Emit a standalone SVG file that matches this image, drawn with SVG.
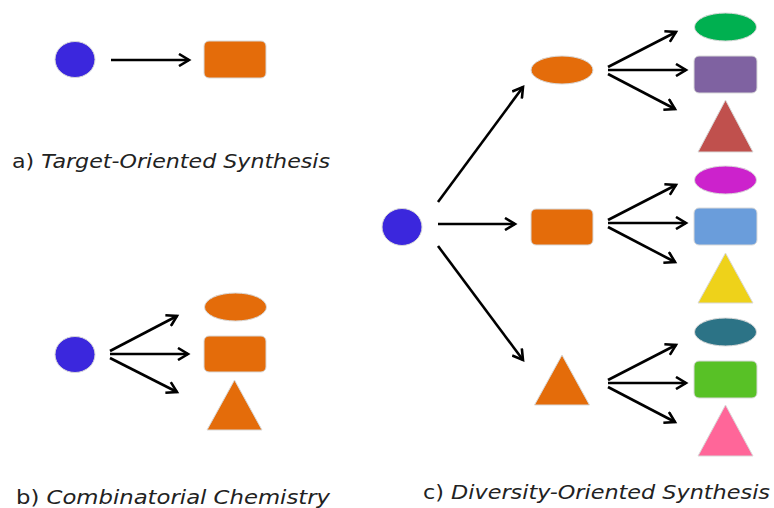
<svg xmlns="http://www.w3.org/2000/svg" width="774" height="508" viewBox="0 0 774 508">
<style>
.shape{stroke:#d9d9d9;stroke-width:1}
.edge{fill:none;stroke:#000;stroke-width:2.6;marker-end:url(#arr)}
.lbl{font-family:"DejaVu Sans","Liberation Sans",sans-serif;font-size:19.5px;fill:#222}
.it{font-style:italic}
.blue{fill:#3b27dd}
.orange{fill:#e46c0a}
</style>
<defs>
<marker id="arr" markerWidth="14" markerHeight="14" refX="11" refY="7" orient="auto" markerUnits="userSpaceOnUse">
<path d="M1,1 L11,7 L1,13" fill="none" stroke="#000" stroke-width="2.6" stroke-linejoin="miter"/>
</marker>
</defs>
<rect width="774" height="508" fill="#fff"/>

<!-- a) Target-Oriented Synthesis -->
<g id="a-start"><ellipse class="shape blue" cx="75" cy="59.5" rx="20" ry="18"/></g>
<g id="a-target"><rect class="shape orange" x="204" y="41" width="62" height="37" rx="5"/></g>

<!-- b) Combinatorial -->
<g id="b-start"><ellipse class="shape blue" cx="75" cy="354.5" rx="20" ry="18"/></g>
<g id="b-ellipse"><ellipse class="shape orange" cx="235.5" cy="307" rx="31" ry="14"/></g>
<g id="b-rect"><rect class="shape orange" x="204" y="336" width="62" height="36" rx="5"/></g>
<g id="b-tri"><polygon class="shape orange" points="234.5,380 262,430 207,430"/></g>

<!-- c) DOS -->
<g id="c-start"><ellipse class="shape blue" cx="402" cy="227" rx="20" ry="18.5"/></g>
<g id="c-ellipse"><ellipse class="shape orange" cx="562" cy="70" rx="31" ry="14"/></g>
<g id="c-rect"><rect class="shape orange" x="531" y="209" width="62" height="36" rx="5"/></g>
<g id="c-tri"><polygon class="shape orange" points="562,355 589.5,405 534.5,405"/></g>

<g id="c1-ellipse"><ellipse class="shape" fill="#00b050" cx="725.5" cy="27" rx="31" ry="14"/></g>
<g id="c1-rect"><rect class="shape" fill="#7f62a1" x="694" y="56" width="63" height="37" rx="5"/></g>
<g id="c1-tri"><polygon class="shape" fill="#c0504d" points="725.5,100 753,152 698,152"/></g>

<g id="c2-ellipse"><ellipse class="shape" fill="#cc22cc" cx="725.5" cy="180" rx="31" ry="14"/></g>
<g id="c2-rect"><rect class="shape" fill="#6a9ddb" x="694" y="208" width="63" height="37" rx="5"/></g>
<g id="c2-tri"><polygon class="shape" fill="#eed21a" points="725.5,253 753,303 698,303"/></g>

<g id="c3-ellipse"><ellipse class="shape" fill="#2c7386" cx="725.5" cy="332" rx="31" ry="14"/></g>
<g id="c3-rect"><rect class="shape" fill="#58c126" x="694" y="361" width="63" height="37" rx="5"/></g>
<g id="c3-tri"><polygon class="shape" fill="#ff6699" points="725.5,405 753,456 698,456"/></g>

<g id="connectors">
<path class="edge" d="M111,60 L189,60"/>

<path class="edge" d="M110,351 L177,316"/>
<path class="edge" d="M110,354 L188,354"/>
<path class="edge" d="M110,358 L177,392"/>

<path class="edge" d="M438,202 L523,87"/>
<path class="edge" d="M438,224 L515,224"/>
<path class="edge" d="M438,246 L523,360"/>

<path class="edge" d="M608,67 L676,32"/>
<path class="edge" d="M608,70 L686,70"/>
<path class="edge" d="M608,74 L675,109"/>

<path class="edge" d="M608,220 L676,185"/>
<path class="edge" d="M608,223 L686,223"/>
<path class="edge" d="M608,227 L675,262"/>

<path class="edge" d="M608,380 L676,345"/>
<path class="edge" d="M608,383 L686,383"/>
<path class="edge" d="M608,387 L675,422"/>
</g>

<text class="lbl" x="12" y="168" textLength="318" lengthAdjust="spacingAndGlyphs">a) <tspan class="it">Target-Oriented Synthesis</tspan></text>
<text class="lbl" x="16" y="504" textLength="314" lengthAdjust="spacingAndGlyphs">b) <tspan class="it">Combinatorial Chemistry</tspan></text>
<text class="lbl" x="423" y="499" textLength="347" lengthAdjust="spacingAndGlyphs">c) <tspan class="it">Diversity-Oriented Synthesis</tspan></text>
</svg>
